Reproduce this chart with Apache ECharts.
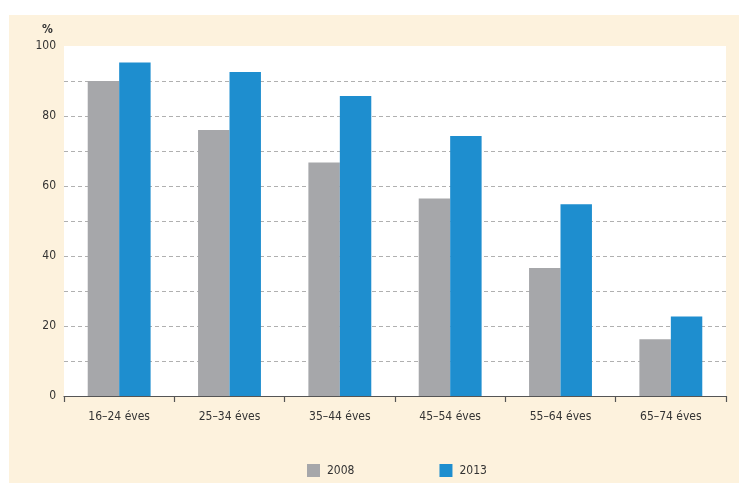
<!DOCTYPE html>
<html>
<head>
<meta charset="utf-8">
<script src="https://cdn.jsdelivr.net/npm/echarts@6/dist/echarts.min.js"></script>
<style>
html,body{margin:0;padding:0;background:#ffffff;}
#bg{position:absolute;left:9px;top:15px;width:730px;height:468px;background:#fdf2dd;}
#chart{position:absolute;left:0;top:0;width:739px;height:483px;}
</style>
</head>
<body>
<div id="bg"></div>
<div id="chart"></div>
<script>
var categories = ['16–24 éves', '25–34 éves', '35–44 éves', '45–54 éves', '55–64 éves', '65–74 éves'];
var seriesNames = ['2008', '2013'];
var values2008 = [90, 76, 66.7, 56.4, 36.6, 16.2];
var values2013 = [95.3, 92.6, 85.7, 74.3, 54.8, 22.7];
var yTicks = [0, 20, 40, 60, 80, 100];

var FONT = "'Liberation Sans Narrow', 'DejaVu Sans Condensed', 'Arial Narrow', sans-serif";
var gridColors = [];
for (var i = 0; i <= 10; i++) gridColors.push(i === 10 ? 'rgba(0,0,0,0)' : '#b0b0b0');

var chart = echarts.init(document.getElementById('chart'), null, {renderer: 'canvas'});
chart.setOption({
  backgroundColor: 'transparent',
  animation: false,
  textStyle: {fontFamily: FONT},
  title: {
    text: '%', left: 37, top: 19,
    textStyle: {fontFamily: FONT, fontSize: 12, fontWeight: 'bold', color: '#333'}
  },
  legend: {
    data: seriesNames,
    left: 302, top: 459,
    itemWidth: 13, itemHeight: 13, itemGap: 85,
    icon: 'rect',
    textStyle: {fontFamily: FONT, fontSize: 12, color: '#333', padding: [0, 0, 0, 2]}
  },
  grid: {
    left: 64, right: 13, top: 46, bottom: 87,
    show: true, backgroundColor: '#ffffff', borderWidth: 0
  },
  xAxis: {
    type: 'category',
    data: categories,
    axisLine: {show: true, lineStyle: {color: '#555', width: 1.2}},
    axisTick: {show: true, length: 6, interval: 0, lineStyle: {color: '#555', width: 1.2}},
    axisLabel: {margin: 15, fontFamily: FONT, fontSize: 12, color: '#333', interval: 0},
    splitLine: {show: false}
  },
  yAxis: {
    type: 'value',
    min: 0, max: 100, interval: 10,
    axisLine: {show: false},
    axisTick: {show: false},
    axisLabel: {
      margin: 8, fontFamily: FONT, fontSize: 12, color: '#333',
      formatter: function (v) { return yTicks.indexOf(v) >= 0 ? String(v) : ''; }
    },
    splitLine: {show: true, lineStyle: {type: [4, 3], color: gridColors, width: 1}}
  },
  series: [
    {
      name: seriesNames[0], type: 'bar', data: values2008,
      itemStyle: {color: '#a6a7aa'},
      barGap: '0%', barCategoryGap: '43%'
    },
    {
      name: seriesNames[1], type: 'bar', data: values2013,
      itemStyle: {color: '#1e8ecf'},
      barGap: '0%', barCategoryGap: '43%'
    }
  ]
});
</script>
</body>
</html>
